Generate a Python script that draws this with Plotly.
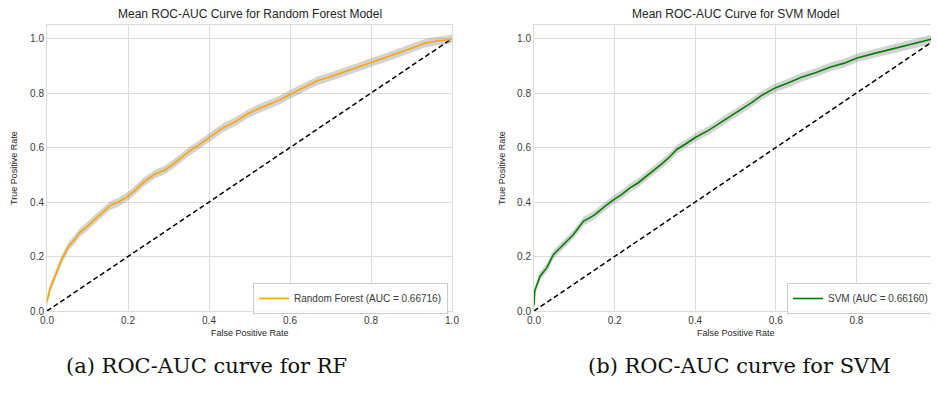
import plotly.graph_objects as go

# ---- data ----
rf_fpr = [0, 0.008, 0.019, 0.035, 0.054, 0.068, 0.081, 0.097, 0.114, 0.135, 0.155, 0.178, 0.2,
          0.215, 0.237, 0.266, 0.29, 0.311, 0.33, 0.352, 0.377, 0.4, 0.435, 0.465, 0.496, 0.52,
          0.546, 0.575, 0.6, 0.635, 0.669, 0.7, 0.727, 0.765, 0.8, 0.835, 0.867, 0.9, 0.933,
          0.965, 0.994, 1.0]
rf_tpr = [0.035, 0.085, 0.124, 0.185, 0.239, 0.262, 0.288, 0.307, 0.331, 0.36, 0.386, 0.401, 0.422,
          0.44, 0.471, 0.502, 0.517, 0.538, 0.562, 0.587, 0.612, 0.636, 0.673, 0.695, 0.724, 0.741,
          0.756, 0.775, 0.795, 0.822, 0.846, 0.86, 0.874, 0.893, 0.91, 0.929, 0.947, 0.965, 0.983,
          0.992, 0.996, 1.0]
rf_std = 0.016

svm_fpr = [0, 0.002, 0.015, 0.032, 0.048, 0.06, 0.073, 0.085, 0.098, 0.11, 0.123, 0.137, 0.151,
           0.175, 0.198, 0.218, 0.238, 0.258, 0.279, 0.3, 0.32, 0.338, 0.355, 0.378, 0.4, 0.432,
           0.464, 0.49, 0.514, 0.54, 0.563, 0.6, 0.63, 0.662, 0.7, 0.736, 0.77, 0.8, 0.84, 0.876,
           0.91, 0.941, 0.965, 0.983, 1.0]
svm_tpr = [0.02, 0.075, 0.128, 0.159, 0.207, 0.224, 0.244, 0.26, 0.281, 0.305, 0.33, 0.341, 0.354,
           0.383, 0.409, 0.428, 0.452, 0.47, 0.495, 0.518, 0.544, 0.568, 0.594, 0.615, 0.637, 0.662,
           0.692, 0.717, 0.741, 0.765, 0.79, 0.82, 0.837, 0.857, 0.876, 0.896, 0.91, 0.928, 0.944,
           0.957, 0.968, 0.979, 0.988, 0.997, 1.0]
svm_std = 0.016

chance = [0, 1]
ticks = [0.0, 0.2, 0.4, 0.6, 0.8, 1.0]
tick_text = ["0.0", "0.2", "0.4", "0.6", "0.8", "1.0"]

titles = ["Mean ROC-AUC Curve for Random Forest Model", "Mean ROC-AUC Curve for SVM Model"]
captions = ["(a) ROC-AUC curve for RF", "(b) ROC-AUC curve for SVM"]
rf_label = "Random Forest (AUC = 0.66716)"
svm_label = "SVM (AUC = 0.66160)"

OFF = 8  # default page body margin
W, H = 939 - OFF, 396 - OFF
FONT = "Liberation Sans, Arial, sans-serif"
GRID = "#dcdcdc"
TXT = "#3a3a3a"

def px_x(p):
    return (p - OFF) / W

def px_y(p):
    return 1 - (p - OFF) / H

fig = go.Figure()

def add_panel(fpr, tpr, std, color, label, xa, ya, legend):
    lower = [t - std for t in tpr]
    upper = [t + std for t in tpr]
    fig.add_trace(go.Scatter(x=fpr, y=lower, mode="lines", line=dict(width=0),
                             showlegend=False, hoverinfo="skip", xaxis=xa, yaxis=ya))
    fig.add_trace(go.Scatter(x=fpr, y=upper, mode="lines", line=dict(width=0),
                             fill="tonexty", fillcolor="rgba(128,128,128,0.35)",
                             showlegend=False, hoverinfo="skip", xaxis=xa, yaxis=ya))
    fig.add_trace(go.Scatter(x=chance, y=chance, mode="lines",
                             line=dict(color="black", width=1.5, dash="5px,3px"),
                             showlegend=False, xaxis=xa, yaxis=ya))
    fig.add_trace(go.Scatter(x=fpr, y=tpr, mode="lines", name=label,
                             line=dict(color=color, width=1.6),
                             xaxis=xa, yaxis=ya, legend=legend))

add_panel(rf_fpr, rf_tpr, rf_std, "#FFA500", rf_label, "x", "y", "legend")
add_panel(svm_fpr, svm_tpr, svm_std, "#008000", svm_label, "x2", "y2", "legend2")

ydom = [px_y(311), px_y(25)]
axis_common = dict(showgrid=True, gridcolor=GRID, gridwidth=1, zeroline=False,
                   showline=True, linecolor=GRID, linewidth=1, mirror=True,
                   tickfont=dict(family=FONT, size=10, color=TXT), ticks="",
                   tickvals=ticks, ticktext=tick_text, fixedrange=True, automargin=False,
                   ticklabeloverflow="allow")

fig.update_layout(
    width=W, height=H,
    margin=dict(l=0, r=0, t=0, b=0),
    paper_bgcolor="white", plot_bgcolor="white",
    xaxis=dict(domain=[px_x(47), px_x(452)], range=[0, 1], anchor="y", **axis_common),
    yaxis=dict(domain=ydom, range=[0, 1.05], anchor="x", **axis_common),
    xaxis2=dict(domain=[px_x(534), min(1.0, px_x(937))], range=[0, 1], anchor="y2", **axis_common),
    yaxis2=dict(domain=ydom, range=[0, 1.05], anchor="x2", **axis_common),
    legend=dict(x=px_x(448), y=px_y(283), xanchor="right", yanchor="top",
                bgcolor="rgba(255,255,255,0.85)", bordercolor="#cccccc", borderwidth=1,
                font=dict(family=FONT, size=10, color=TXT), tracegroupgap=0,
                itemwidth=30),
    legend2=dict(x=px_x(934), y=px_y(283), xanchor="right", yanchor="top",
                 bgcolor="rgba(255,255,255,0.85)", bordercolor="#cccccc", borderwidth=1,
                 font=dict(family=FONT, size=10, color=TXT), tracegroupgap=0,
                 itemwidth=30),
    showlegend=True,
)

annos = []
for cx, t in zip([249.5, 735.5], titles):
    annos.append(dict(text=t, x=px_x(cx), y=px_y(14), xref="paper", yref="paper",
                      showarrow=False, xanchor="center", yanchor="middle",
                      font=dict(family=FONT, size=12, color="#262626")))
for cx in [249.5, 735.5]:
    annos.append(dict(text="False Positive Rate", x=px_x(cx), y=px_y(333), xref="paper", yref="paper",
                      showarrow=False, xanchor="center", yanchor="middle",
                      font=dict(family=FONT, size=9, color="#262626")))
for cx in [14, 502]:
    annos.append(dict(text="True Positive Rate", x=px_x(cx), y=px_y(168), xref="paper", yref="paper",
                      showarrow=False, xanchor="center", yanchor="middle", textangle=-90,
                      font=dict(family=FONT, size=9, color="#262626")))
for cx, t in zip([206, 739], captions):
    annos.append(dict(text=t, x=px_x(cx), y=px_y(366), xref="paper", yref="paper",
                      showarrow=False, xanchor="center", yanchor="middle",
                      font=dict(family="DejaVu Serif, Liberation Serif, serif", size=21, color="#111111")))
fig.update_layout(annotations=annos)

fig.write_html("out.html")
